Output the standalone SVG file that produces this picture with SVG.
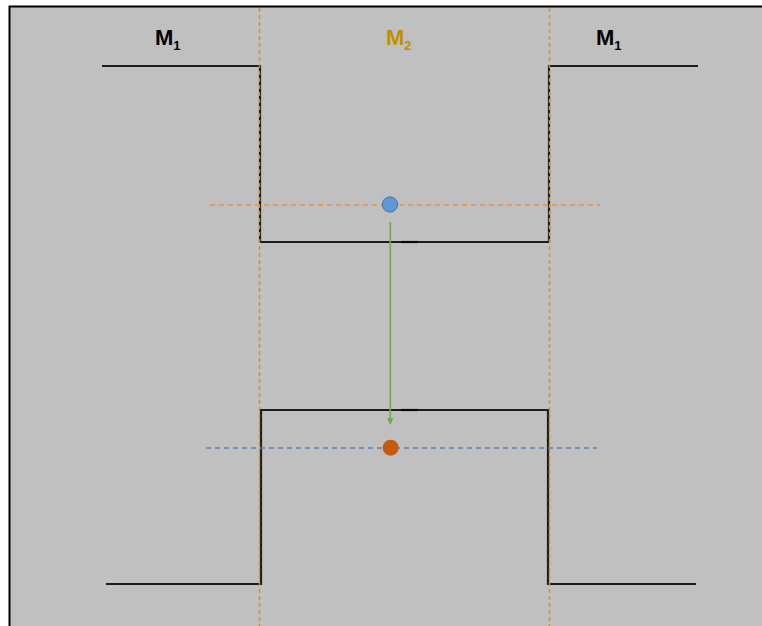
<svg xmlns="http://www.w3.org/2000/svg" width="762" height="626" viewBox="0 0 762 626">
  <style>
    .band { fill: none; stroke: #1c1c1c; stroke-width: 2.2; stroke-linejoin: miter; }
    .iface { fill: none; stroke: #c8961e; stroke-width: 1.4; stroke-dasharray: 4 3; }
    .level { fill: none; stroke-width: 1.4; stroke-dasharray: 5 4; }
    .lbl { font-family: "Liberation Sans", Arial, sans-serif; font-weight: bold; font-size: 22px; }
    .sub { font-size: 13px; }
  </style>
  <defs>
    <marker id="arrowGreen" markerWidth="8" markerHeight="8" refX="6" refY="4" orient="auto" markerUnits="userSpaceOnUse">
      <path d="M0,0.8 L7,4 L0,7.2 Z" fill="#70ad47"/>
    </marker>
  </defs>

  <!-- panel -->
  <rect x="0" y="0" width="762" height="626" fill="#ffffff"/>
  <rect x="9.5" y="6.5" width="760" height="630" fill="#c0c0c0" stroke="#000000" stroke-width="2"/>

  <!-- band edges -->
  <g id="conduction-band">
    <path class="band" d="M102,66 H260 V242 H549 V66 H698"/>
    <line x1="401" y1="242" x2="418" y2="242" stroke="#0a0a0a" stroke-width="2.2"/>
  </g>
  <g id="valence-band">
    <path class="band" d="M106,584 H261 V410 H548 V584 H696"/>
    <line x1="401" y1="410" x2="418" y2="410" stroke="#0a0a0a" stroke-width="2.2"/>
  </g>

  <!-- material interfaces -->
  <g id="interfaces">
    <line class="iface" x1="259.5" y1="8" x2="259.5" y2="626"/>
    <line class="iface" x1="549.5" y1="8" x2="549.5" y2="626"/>
  </g>

  <!-- levels and transition -->
  <g id="connectors">
    <line class="level" x1="210" y1="205" x2="600" y2="205" stroke="#f08c3c"/>
    <line class="level" x1="206" y1="448" x2="597" y2="448" stroke="#5b7fbf"/>
    <line x1="390.3" y1="222" x2="390.3" y2="424" stroke="#70ad47" stroke-width="1.6" marker-end="url(#arrowGreen)"/>
  </g>

  <g id="electron">
    <circle cx="390" cy="204.5" r="7.6" fill="#5b9bd5" stroke="#41719c" stroke-width="1"/>
  </g>
  <g id="hole">
    <circle cx="390.7" cy="447.7" r="8" fill="#c55a11"/>
  </g>

  <!-- labels -->
  <g id="label-m1-left">
    <text class="lbl" x="155" y="45" fill="#000000">M<tspan class="sub" dy="5">1</tspan></text>
  </g>
  <g id="label-m2">
    <text class="lbl" x="386" y="45" fill="#bf9000">M<tspan class="sub" dy="5">2</tspan></text>
  </g>
  <g id="label-m1-right">
    <text class="lbl" x="596" y="45" fill="#000000">M<tspan class="sub" dy="5">1</tspan></text>
  </g>
</svg>
